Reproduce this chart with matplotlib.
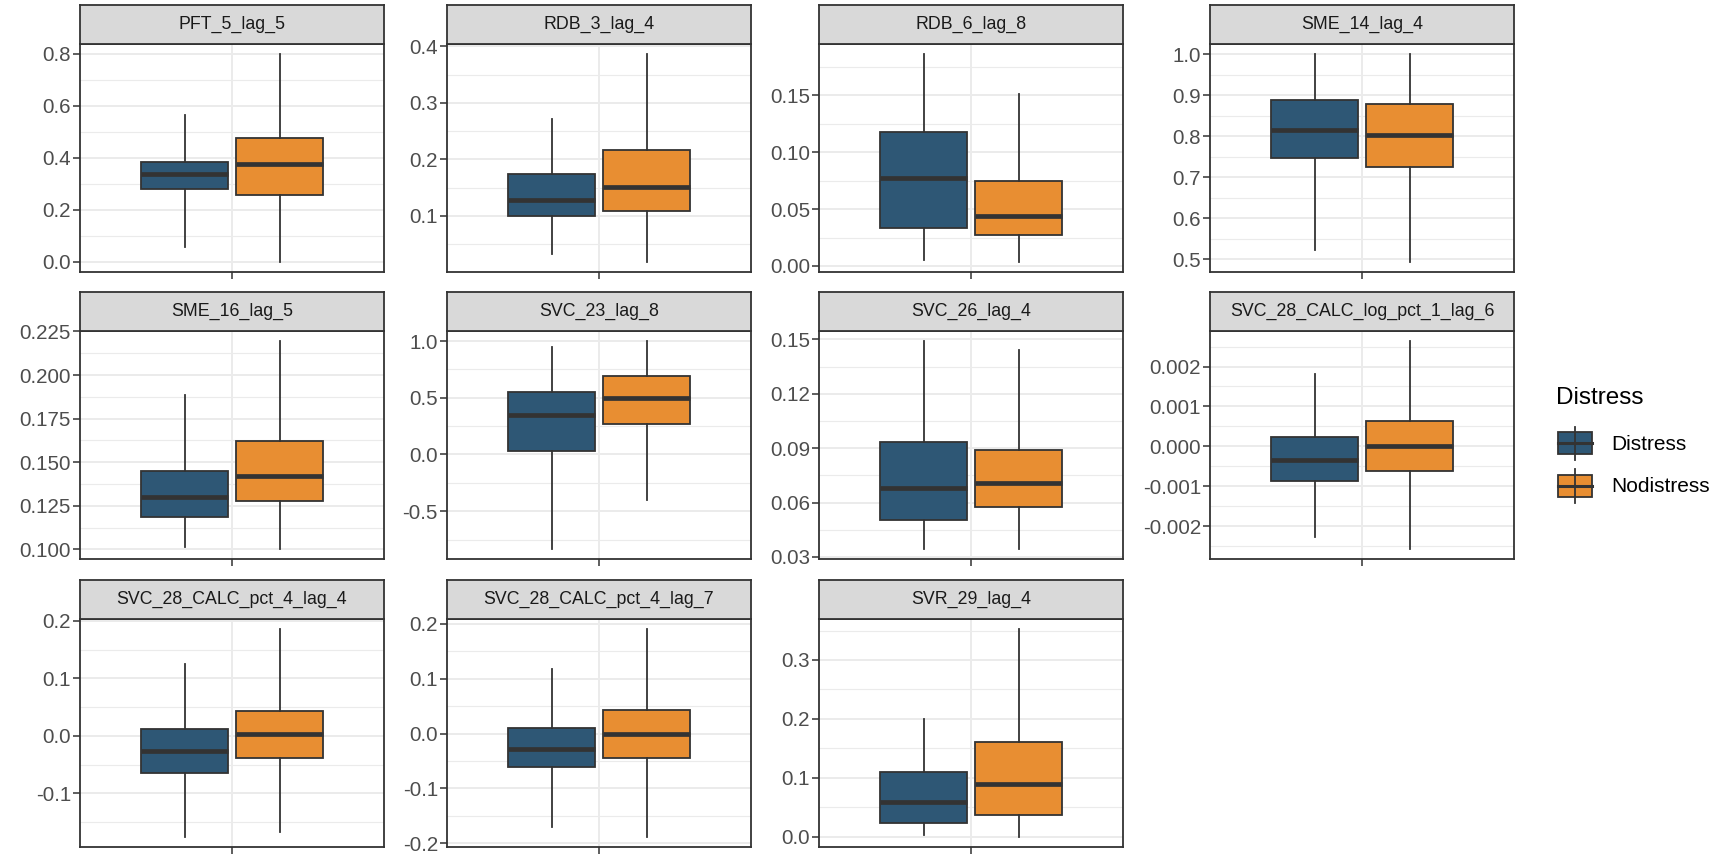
import matplotlib
matplotlib.use("Agg")
import matplotlib.pyplot as plt
from matplotlib.patches import Rectangle
from matplotlib.lines import Line2D

plt.rcParams['font.family'] = ['Liberation Sans', 'DejaVu Sans']

panels = ["PFT_5_lag_5", "RDB_3_lag_4", "RDB_6_lag_8", "SME_14_lag_4",
          "SME_16_lag_5", "SVC_23_lag_8", "SVC_26_lag_4", "SVC_28_CALC_log_pct_1_lag_6",
          "SVC_28_CALC_pct_4_lag_4", "SVC_28_CALC_pct_4_lag_7", "SVR_29_lag_4"]
groups = ["Distress", "Nodistress"]
colors = ["#2E5775", "#E88E32"]

# per panel: [whisker low, q1, median, q3, whisker high]
distress = [
    [0.055, 0.280, 0.338, 0.383, 0.563],
    [0.032, 0.100, 0.128, 0.174, 0.272],
    [0.005, 0.0333, 0.077, 0.1174, 0.186],
    [0.522, 0.746, 0.816, 0.888, 1.000],
    [0.1012, 0.1188, 0.1303, 0.1452, 0.1884],
    [-0.830, 0.027, 0.352, 0.549, 0.947],
    [0.0346, 0.0503, 0.0682, 0.0934, 0.1489],
    [-0.00228, -0.000862, -0.000335, 0.000234, 0.00181],
    [-0.175, -0.0646, -0.0258, 0.0118, 0.124],
    [-0.1696, -0.0608, -0.0286, 0.0103, 0.118],
    [0.0023, 0.0227, 0.059, 0.109, 0.200],
]
nodistress = [
    [0.000, 0.255, 0.377, 0.475, 0.797],
    [0.019, 0.108, 0.152, 0.217, 0.386],
    [0.0038, 0.027, 0.0439, 0.075, 0.151],
    [0.494, 0.724, 0.802, 0.878, 1.000],
    [0.1004, 0.128, 0.1423, 0.162, 0.2193],
    [-0.403, 0.266, 0.499, 0.696, 0.997],
    [0.0346, 0.0576, 0.0709, 0.0888, 0.1443],
    [-0.00256, -0.000611, 0.0, 0.000636, 0.00263],
    [-0.167, -0.0385, 0.0037, 0.0437, 0.185],
    [-0.188, -0.0438, -0.0012, 0.0438, 0.190],
    [0.000, 0.037, 0.0886, 0.160, 0.352],
]

ytick_labels = [
    ["0.0", "0.2", "0.4", "0.6", "0.8"],
    ["0.1", "0.2", "0.3", "0.4"],
    ["0.00", "0.05", "0.10", "0.15"],
    ["0.5", "0.6", "0.7", "0.8", "0.9", "1.0"],
    ["0.100", "0.125", "0.150", "0.175", "0.200", "0.225"],
    ["-0.5", "0.0", "0.5", "1.0"],
    ["0.03", "0.06", "0.09", "0.12", "0.15"],
    ["-0.002", "-0.001", "0.000", "0.001", "0.002"],
    ["-0.1", "0.0", "0.1", "0.2"],
    ["-0.2", "-0.1", "0.0", "0.1", "0.2"],
    ["0.0", "0.1", "0.2", "0.3"],
]

W, H = 1720, 856
fig = plt.figure(figsize=(W / 100, H / 100), dpi=100)

col_left = [80, 447, 819, 1210]
row_top = [5, 292, 580]
pw, sh, ph = 304, 39, 228

grey20 = "#333333"
grid_col = "#EBEBEB"
dodge = 0.375
bw = 0.344

for i, name in enumerate(panels):
    r, c = divmod(i, 4)
    x0 = col_left[c]
    ytop = row_top[r]
    ax = fig.add_axes([x0 / W, 1 - (ytop + sh + ph) / H, pw / W, ph / H])
    sax = fig.add_axes([x0 / W, 1 - (ytop + sh) / H, pw / W, sh / H])

    stats = []
    for g, vals in zip(groups, [distress[i], nodistress[i]]):
        lo, q1, med, q3, hi = vals
        stats.append(dict(label=g, whislo=lo, q1=q1, med=med, q3=q3, whishi=hi))
    pos = [1 - dodge / 2, 1 + dodge / 2]
    bp = ax.bxp(stats, positions=pos, widths=bw, patch_artist=True,
                showfliers=False, showcaps=False,
                boxprops=dict(edgecolor=grey20, linewidth=1.3),
                medianprops=dict(color=grey20, linewidth=3.4, solid_capstyle='butt'),
                whiskerprops=dict(color=grey20, linewidth=1.3),
                manage_ticks=False, zorder=3)
    for patch, col in zip(bp['boxes'], colors):
        patch.set_facecolor(col)

    lo = min(distress[i][0], nodistress[i][0])
    hi = max(distress[i][4], nodistress[i][4])
    pad = (hi - lo) * 0.05
    ax.set_ylim(lo - pad, hi + pad)
    ax.set_xlim(0.4, 1.6)

    majors = [float(t) for t in ytick_labels[i]]
    step = majors[1] - majors[0]
    minors = [majors[0] - step / 2] + [m + step / 2 for m in majors]
    minors = [m for m in minors if lo - pad <= m <= hi + pad]
    ax.set_yticks(majors)
    ax.set_yticklabels(ytick_labels[i])
    ax.set_yticks(minors, minor=True)
    ax.set_xticks([1])
    ax.set_xticklabels([""])
    ax.grid(which='major', color=grid_col, linewidth=1.4)
    ax.grid(which='minor', axis='y', color=grid_col, linewidth=0.8)
    ax.set_axisbelow(True)
    ax.tick_params(which='major', length=5, width=1.1, color=grey20,
                   labelsize=14.8, labelcolor="#4D4D4D", pad=1.5)
    ax.tick_params(which='minor', length=0)
    for sp in ax.spines.values():
        sp.set_color(grey20)
        sp.set_linewidth(1.3)

    sax.set_facecolor("#D9D9D9")
    sax.set_xticks([])
    sax.set_yticks([])
    for sp in sax.spines.values():
        sp.set_color(grey20)
        sp.set_linewidth(1.3)
    sax.text(0.5, 0.5, name, ha='center', va='center', fontsize=12.8,
             color="#1A1A1A", transform=sax.transAxes)

# legend
def fx(x):
    return x / W

def fy(y):
    return 1 - y / H

fig.text(fx(1556), fy(398), "Distress", fontsize=17.5, color="black",
         ha='left', va='center')
key_rows = [(432, 454, 427, 460, 445), (475, 497, 469, 503, 487)]
for (b0, b1, w0, w1, ty), g, col in zip(key_rows, groups, colors):
    kx0, kx1 = 1558, 1592
    kc = (kx0 + kx1) / 2
    fig.add_artist(Line2D([fx(kc), fx(kc)], [fy(w0), fy(w1)], color=grey20,
                          linewidth=1.3, transform=fig.transFigure))
    fig.add_artist(Rectangle((fx(kx0), fy(b1)), fx(kx1) - fx(kx0), fy(b0) - fy(b1),
                             facecolor=col, edgecolor=grey20, linewidth=1.3,
                             transform=fig.transFigure))
    fig.add_artist(Line2D([fx(kx0), fx(kx1)], [fy((b0 + b1) / 2)] * 2, color=grey20,
                          linewidth=2.2, transform=fig.transFigure))
    fig.text(fx(1611), fy(ty), g, fontsize=15, color="black", ha='left', va='center')

fig.savefig("out.png", dpi=100)
